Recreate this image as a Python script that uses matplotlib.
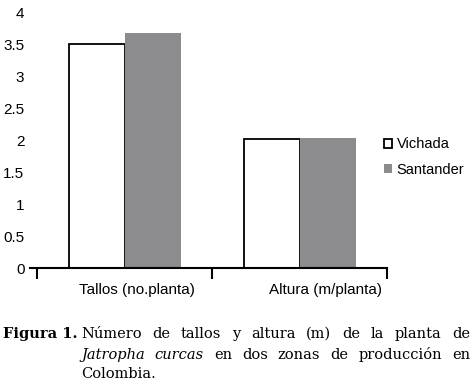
import numpy as np
import matplotlib
matplotlib.use("Agg")
import matplotlib.pyplot as plt
import matplotlib.transforms as mtransforms

# datos
categorias = ["Tallos (no.planta)", "Altura (m/planta)"]
vichada = [3.50, 2.02]
santander = [3.67, 2.03]
yticks = [0, 0.5, 1, 1.5, 2, 2.5, 3, 3.5, 4]
ytick_labels = ["0", "0.5", "1", "1.5", "2", "2.5", "3", "3.5", "4"]

W, H = 473, 385
fig = plt.figure(figsize=(W / 100, H / 100), dpi=100)
ax = fig.add_axes([30 / W, 1 - 268 / H, (387 - 30) / W, (268 - 12) / H])

x = np.arange(len(categorias))
bw = 0.32
ax.bar(x - bw / 2, vichada, bw, color="white", edgecolor="black", linewidth=1.3,
       label="Vichada")
ax.bar(x + bw / 2, santander, bw, color="#8c8c8f", edgecolor="none",
       label="Santander")

ax.set_xlim(-0.54, 1.5)
ax.set_ylim(0, 4)
for s in ["top", "right", "left"]:
    ax.spines[s].set_visible(False)
ax.spines["bottom"].set_linewidth(1.5)

sans = "Liberation Sans"
ax.set_yticks(yticks)
ax.set_yticklabels(ytick_labels, fontsize=11, fontfamily=sans)
ax.tick_params(axis="y", length=0, pad=4)

ax.set_xticks(x)
ax.set_xticklabels(categorias, fontsize=11, fontfamily=sans)
ax.set_xticks([-0.5, 0.5, 1.5], minor=True)
ax.tick_params(axis="x", which="major", length=0, pad=11)
ax.tick_params(axis="x", which="minor", length=8, width=1.5, direction="out")
# las etiquetas del original van algo corridas a la derecha
for lab, dx in zip(ax.get_xticklabels(), [12, 26]):
    off = mtransforms.ScaledTranslation(dx / 100, 0, fig.dpi_scale_trans)
    lab.set_transform(lab.get_transform() + off)

leg = ax.legend(loc="upper left", bbox_to_anchor=(377 / W, 1 - 130 / H),
                bbox_transform=fig.transFigure, frameon=False,
                prop={"family": sans, "size": 10.5},
                handlelength=0.55, handleheight=0.55, handletextpad=0.3,
                labelspacing=0.8, borderpad=0)

# pie de figura, justificado palabra por palabra
fig.canvas.draw()
rend = fig.canvas.get_renderer()
serif = "DejaVu Serif"
fs = 10.5


def linea(palabras, ybase, x0, x1=None):
    objs = []
    for txt, estilo in palabras:
        t = fig.text(0, ybase / H, txt, fontsize=fs, family=serif, style=estilo,
                     va="baseline", ha="left")
        objs.append(t)
    anchos = [t.get_window_extent(rend).width for t in objs]
    if x1 is None:
        gap = fs * 0.35
    else:
        gap = (x1 - x0 - sum(anchos)) / (len(objs) - 1)
    pos = x0
    for t, w in zip(objs, anchos):
        t.set_x(pos / W)
        pos += w + gap


fig.text(3 / W, (H - 338) / H, "Figura 1.", fontsize=fs, family=serif,
         weight="bold", va="baseline", ha="left")
l1 = "Número de tallos y altura (m) de la planta de".split()
linea([(w, "normal") for w in l1], H - 338, 81, 470)
l2 = [("Jatropha", "italic"), ("curcas", "italic")] + \
     [(w, "normal") for w in "en dos zonas de producción en".split()]
linea(l2, H - 359, 81, 470)
linea([("Colombia.", "normal")], H - 378, 81)

fig.savefig("out.png", dpi=100)
